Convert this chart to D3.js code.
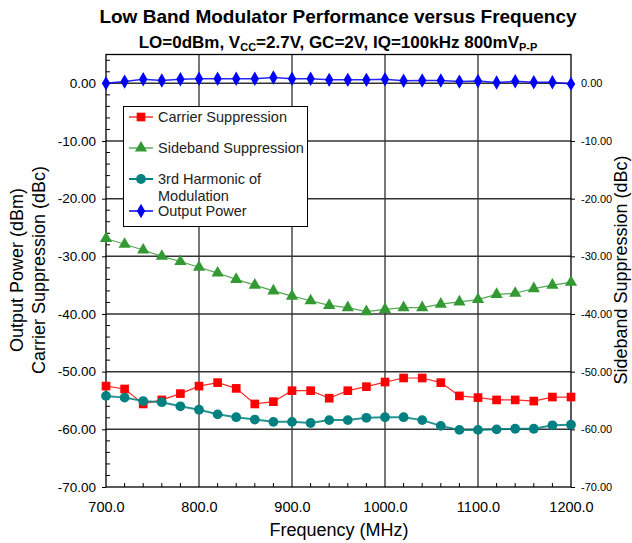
<!DOCTYPE html>
<html>
<head>
<meta charset="utf-8">
<script src="https://cdn.jsdelivr.net/npm/d3@7"></script>
<style>
body { margin: 0; background: #fff; }
svg { display: block; font-family: "Liberation Sans", Arial, sans-serif; }
</style>
</head>
<body>
<svg id="chart" width="632" height="543"></svg>
<script>
const freqs = [700,720,740,760,780,800,820,840,860,880,900,920,940,960,980,1000,1020,1040,1060,1080,1100,1120,1140,1160,1180,1200];
const carrierSuppression = [-52.5,-53.0,-55.6,-54.9,-53.8,-52.5,-51.9,-52.9,-55.6,-55.2,-53.3,-53.3,-54.6,-53.3,-52.6,-51.8,-51.1,-51.1,-51.9,-54.2,-54.5,-54.9,-54.9,-55.1,-54.4,-54.4];
const sidebandSuppression = [-26.9,-27.9,-28.9,-30.0,-30.9,-31.9,-32.9,-34.0,-35.0,-36.0,-36.9,-37.7,-38.5,-38.9,-39.6,-39.2,-38.9,-38.9,-38.3,-37.9,-37.5,-36.6,-36.4,-35.6,-35.0,-34.5];
const thirdHarmonic = [-54.2,-54.5,-55.1,-55.3,-56.0,-56.6,-57.4,-57.9,-58.3,-58.7,-58.7,-58.9,-58.4,-58.4,-58.0,-57.9,-57.9,-58.4,-59.4,-60.1,-60.1,-60.0,-59.9,-59.9,-59.3,-59.2];
const outputPower = [0.0,0.3,0.7,0.5,0.7,0.8,0.8,0.8,0.8,1.0,0.8,0.8,0.6,0.6,0.6,0.7,0.45,0.5,0.5,0.3,0.4,0.15,0.35,0.2,0.2,-0.1];
const xTicks = [700,800,900,1000,1100,1200];
const yTicks = [0,-10,-20,-30,-40,-50,-60,-70];
const seriesNames = ["Carrier Suppression","Sideband Suppression","3rd Harmonic of\nModulation","Output Power"];

const svg = d3.select("#chart");
const L = 106, R = 571, T = 54.5, B = 487;
const x = d3.scaleLinear().domain([700,1200]).range([L,R]);
const y = d3.scaleLinear().domain([-70,5]).range([B,T]);

// grid
const g = svg.append("g");
g.selectAll(".vg").data(xTicks.slice(1,-1)).enter().append("line")
  .attr("x1", d=>x(d)).attr("x2", d=>x(d)).attr("y1", T).attr("y2", B)
  .attr("stroke", "#555").attr("stroke-width", 1.6);
g.selectAll(".hg").data(yTicks.slice(0,-1)).enter().append("line")
  .attr("x1", L).attr("x2", R).attr("y1", d=>y(d)).attr("y2", d=>y(d))
  .attr("stroke", "#333").attr("stroke-width", 1.5);
// border
g.append("rect").attr("x", L).attr("y", T).attr("width", R-L).attr("height", B-T)
  .attr("fill", "none").attr("stroke", "#000").attr("stroke-width", 1.3);

// minor ticks inside
const minorY = d3.range(-70, 5.01, 2).filter(v => v % 10 !== 0);
g.selectAll(".my").data(minorY).enter().append("line")
  .attr("x1", L).attr("x2", L+4).attr("y1", d=>y(d)).attr("y2", d=>y(d))
  .attr("stroke", "#000").attr("stroke-width", 1);
const minorX = d3.range(700, 1200, 20).filter(v => v % 100 !== 0);
g.selectAll(".mx").data(minorX).enter().append("line")
  .attr("x1", d=>x(d)).attr("x2", d=>x(d)).attr("y1", B).attr("y2", B-4)
  .attr("stroke", "#000").attr("stroke-width", 1);

// axes
const fmt = d => d.toFixed(2);
const leftAxis = svg.append("g").attr("transform", `translate(${L},0)`)
  .call(d3.axisLeft(y).tickValues(yTicks).tickFormat(fmt).tickSize(4).tickPadding(6));
leftAxis.select(".domain").remove();
leftAxis.selectAll("text").attr("font-size", 13.5).attr("fill", "#000").attr("font-family", "Liberation Sans, Arial, sans-serif");
const rightAxis = svg.append("g").attr("transform", `translate(${R},0)`)
  .call(d3.axisRight(y).tickValues(yTicks).tickFormat(fmt).tickSize(4).tickPadding(6));
rightAxis.select(".domain").remove();
rightAxis.selectAll("text").attr("font-size", 11).attr("fill", "#000").attr("font-family", "Liberation Sans, Arial, sans-serif");
const bottomAxis = svg.append("g").attr("transform", `translate(0,${B})`)
  .call(d3.axisBottom(x).tickValues(xTicks).tickFormat(d => d.toFixed(1)).tickSize(0).tickPadding(15));
bottomAxis.select(".domain").remove();
bottomAxis.selectAll("text").attr("font-size", 14.5).attr("fill", "#000").attr("font-family", "Liberation Sans, Arial, sans-serif");

// series
const defs = [
  {vals: carrierSuppression, color: "#ff0000", sym: d3.symbolSquare, size: 75, lw: 1.2},
  {vals: sidebandSuppression, color: "#339933", sym: d3.symbolTriangle, size: 65, lw: 1.2},
  {vals: thirdHarmonic, color: "#008080", sym: d3.symbolCircle, size: 75, lw: 2},
  {vals: outputPower, color: "#0000ff", sym: d3.symbolDiamond, size: 60, lw: 1.5}
];
const line = d3.line().x((d,i)=>x(freqs[i])).y(d=>y(d));
defs.forEach(s => {
  svg.append("path").datum(s.vals).attr("d", line).attr("fill", "none")
    .attr("stroke", s.color).attr("stroke-width", s.lw).attr("opacity", 0.85);
  svg.selectAll(null).data(s.vals).enter().append("path")
    .attr("d", d3.symbol().type(s.sym).size(s.size))
    .attr("transform", (d,i)=>`translate(${x(freqs[i])},${y(d)})`)
    .attr("fill", s.color);
});

// legend
const lg = svg.append("g");
lg.append("rect").attr("x", 123.5).attr("y", 106.5).attr("width", 184).attr("height", 120)
  .attr("fill", "#fff").attr("stroke", "#000").attr("stroke-width", 1);
const legY = [117, 148, 179, 211];
defs.forEach((s, i) => {
  const yy = legY[i];
  lg.append("line").attr("x1", 129).attr("x2", 153).attr("y1", yy).attr("y2", yy)
    .attr("stroke", s.color).attr("stroke-width", s.lw);
  lg.append("path").attr("d", d3.symbol().type(s.sym).size(s.size))
    .attr("transform", `translate(141,${yy})`).attr("fill", s.color);
  const lines = seriesNames[i].split("\n");
  const t = lg.append("text").attr("x", 158).attr("y", yy + 5).attr("font-size", 14.5).attr("fill", "#222");
  lines.forEach((ln, k) => t.append("tspan").attr("x", 158).attr("dy", k === 0 ? 0 : 17).text(ln));
});

// titles
svg.append("text").attr("x", 338).attr("y", 23).attr("text-anchor", "middle")
  .attr("font-size", 19).attr("font-weight", "bold").text("Low Band Modulator Performance versus Frequency");
const sub = svg.append("text").attr("x", 338).attr("y", 48).attr("text-anchor", "middle")
  .attr("font-size", 17).attr("font-weight", "bold");
sub.append("tspan").text("LO=0dBm, V");
sub.append("tspan").attr("font-size", 11).attr("dy", 3).text("CC");
sub.append("tspan").attr("dy", -3).text("=2.7V, GC=2V, IQ=100kHz 800mV");
sub.append("tspan").attr("font-size", 11).attr("dy", 3).text("P-P");

svg.append("text").attr("x", 339).attr("y", 536).attr("text-anchor", "middle")
  .attr("font-size", 18).text("Frequency (MHz)");
svg.append("text").attr("transform", "translate(23,270) rotate(-90)").attr("text-anchor", "middle")
  .attr("font-size", 18).text("Output Power (dBm)");
svg.append("text").attr("transform", "translate(45,270) rotate(-90)").attr("text-anchor", "middle")
  .attr("font-size", 18).text("Carrier Suppression (dBc)");
svg.append("text").attr("transform", "translate(627,270) rotate(-90)").attr("text-anchor", "middle")
  .attr("font-size", 18).text("Sideband Suppression (dBc)");
</script>
</body>
</html>
